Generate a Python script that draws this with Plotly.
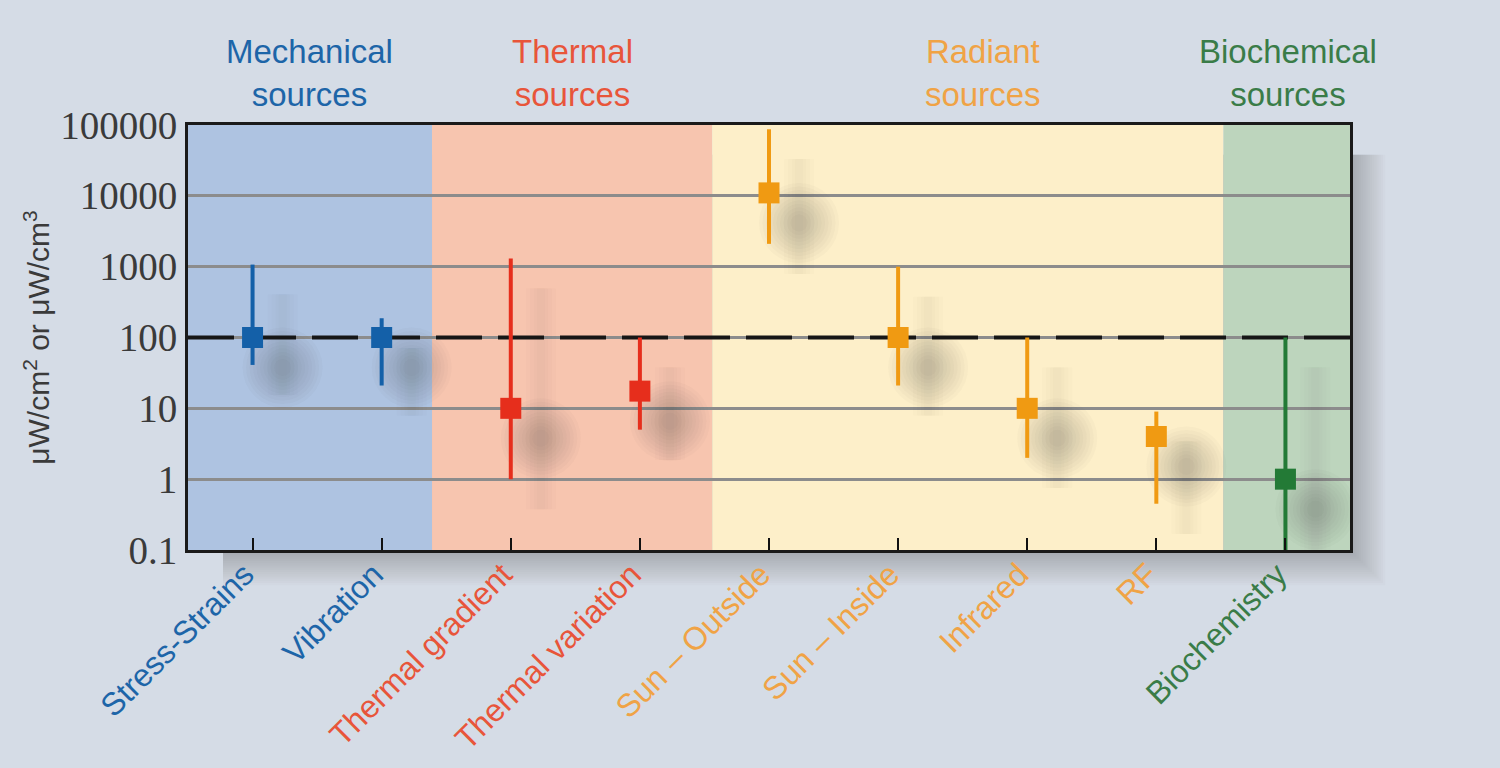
import plotly.graph_objects as go

# ---------------- data ----------------
categories = ["Stress-Strains", "Vibration", "Thermal gradient", "Thermal variation",
              "Sun – Outside", "Sun – Inside", "Infrared", "RF", "Biochemistry"]
groups = ["mech", "mech", "therm", "therm", "rad", "rad", "rad", "rad", "bio"]
typical = [100, 100, 10, 17.5, 11000, 100, 10, 4, 1]
high = [1070, 187, 1300, 100, 87000, 1000, 100, 9, 100]
low = [41, 21, 1, 5, 2100, 21, 2, 0.45, 0.1]

group_names = ["mech", "therm", "rad", "bio"]
group_titles = ["Mechanical<br>sources", "Thermal<br>sources", "Radiant<br>sources", "Biochemical<br>sources"]
ytick_vals = [0.1, 1, 10, 100, 1000, 10000, 100000]
ytick_text = ["0.1", "1", "10", "100", "1000", "10000", "100000"]
reference_level = 100

# ---------------- styles ----------------
mark_color = {"mech": "#1460a8", "therm": "#e62e1c", "rad": "#f09a12", "bio": "#237a36"}
text_color = {"mech": "#1d65a8", "therm": "#e8553a", "rad": "#f0a345", "bio": "#3a7c48"}
band_color = {"mech": "#aec3e1", "therm": "#f7c5af", "rad": "#fdefc9", "bio": "#bdd5bd"}
band_edges = {"mech": (-0.5, 1.39), "therm": (1.39, 3.56), "rad": (3.56, 7.52), "bio": (7.52, 8.5)}
title_x = {"mech": 0.44, "therm": 2.48, "rad": 5.66, "bio": 8.02}
bg = "#d5dce6"

x_idx = list(range(len(categories)))

fig = go.Figure()

# soft drop shadows (offset right/down)
dx = 30 / 129.0
dyf = 10 ** (-30 / 70.8)
for i in x_idx:
    xs = x_idx[i] + dx
    for w in [30, 22, 14, 8]:
        fig.add_trace(go.Scatter(x=[xs, xs], y=[low[i] * dyf, high[i] * dyf], mode="lines",
                                 line=dict(color="rgba(60,60,70,0.014)", width=w),
                                 hoverinfo="skip", showlegend=False))
    for s in range(80, 10, -7):
        fig.add_trace(go.Scatter(x=[xs], y=[typical[i] * dyf], mode="markers",
                                 marker=dict(symbol="circle", size=s, color="rgba(60,60,70,0.026)", line=dict(width=0)),
                                 hoverinfo="skip", showlegend=False))

# 100 µW dashed reference line (drawn under the markers)
fig.add_trace(go.Scatter(x=[-0.5, 8.5], y=[reference_level, reference_level], mode="lines",
                         line=dict(color="#161616", width=4, dash="46px,16px"),
                         hoverinfo="skip", showlegend=False))

# error-bar + square marker per group
for g in group_names:
    idx = [i for i in x_idx if groups[i] == g]
    fig.add_trace(go.Scatter(
        x=[x_idx[i] for i in idx],
        y=[typical[i] for i in idx],
        mode="markers",
        marker=dict(symbol="square", size=21, color=mark_color[g], line=dict(width=0)),
        error_y=dict(type="data", symmetric=False,
                     array=[high[i] - typical[i] for i in idx],
                     arrayminus=[typical[i] - low[i] for i in idx],
                     color=mark_color[g], thickness=4, width=0),
        showlegend=False,
    ))

shapes = []
# frame shadow
for k in range(16):
    o = (k + 1) * 2.2
    shapes.append(dict(type="rect", xref="paper", yref="paper",
                       x0=0.03, x1=1 + o / 1162.0, y0=-o / 425.0, y1=0.93,
                       fillcolor="rgba(70,75,90,0.024)", line=dict(width=0), layer="below"))
# colored bands
for g in group_names:
    x0, x1 = band_edges[g]
    shapes.append(dict(type="rect", xref="x", yref="paper", x0=x0, x1=x1, y0=0, y1=1,
                       fillcolor=band_color[g], line=dict(width=0), layer="below"))

annotations = []
for g, t in zip(group_names, group_titles):
    annotations.append(dict(x=title_x[g], y=1, xref="x", yref="paper", text=t,
                            showarrow=False, xanchor="center", yanchor="bottom", yshift=10,
                            font=dict(family="Liberation Sans", size=33, color=text_color[g])))
annotations.append(dict(x=1, y=reference_level, xref="paper", yref="y", text="100 μW",
                        showarrow=False, xanchor="left", yanchor="middle", xshift=9,
                        font=dict(family="Liberation Serif", size=37, color="#3a3a3a")))

ticktext = [f"<span style='color:{text_color[groups[i]]}'>{categories[i]}</span>" for i in x_idx]

fig.update_layout(
    width=1500, height=768,
    margin=dict(l=188, r=150, t=125, b=218, autoexpand=False),
    paper_bgcolor=bg, plot_bgcolor=bg,
    shapes=shapes, annotations=annotations,
    xaxis=dict(range=[-0.5, 8.5], tickmode="array", tickvals=x_idx, ticktext=ticktext,
               tickangle=-45, ticks="inside", ticklen=12, tickwidth=2, tickcolor="#111",
               ticklabelshift=-8, ticklabelstandoff=-10, automargin=False,
               showgrid=False, zeroline=False, showline=True, linecolor="#1a1a1a", linewidth=3,
               mirror=True, tickfont=dict(family="Liberation Sans", size=32)),
    yaxis=dict(type="log", range=[-1, 5], tickmode="array", tickvals=ytick_vals, ticktext=ytick_text,
               showgrid=True, gridcolor="#8c8c8c", gridwidth=3, zeroline=False, automargin=False,
               showline=True, linecolor="#1a1a1a", linewidth=3, mirror=True, ticks="",
               tickfont=dict(family="Liberation Serif", size=39, color="#3a3a3a"),
               title=dict(text="μW/cm<sup>2</sup> or μW/cm<sup>3</sup>", standoff=2,
                          font=dict(family="Liberation Sans", size=30, color="#3a3a3a"))),
)

fig.write_html("out.html", config={"displayModeBar": False},
               post_script="document.body.style.margin='0px';document.body.style.background='#d5dce6';"
                           "document.documentElement.style.background='#d5dce6';")
